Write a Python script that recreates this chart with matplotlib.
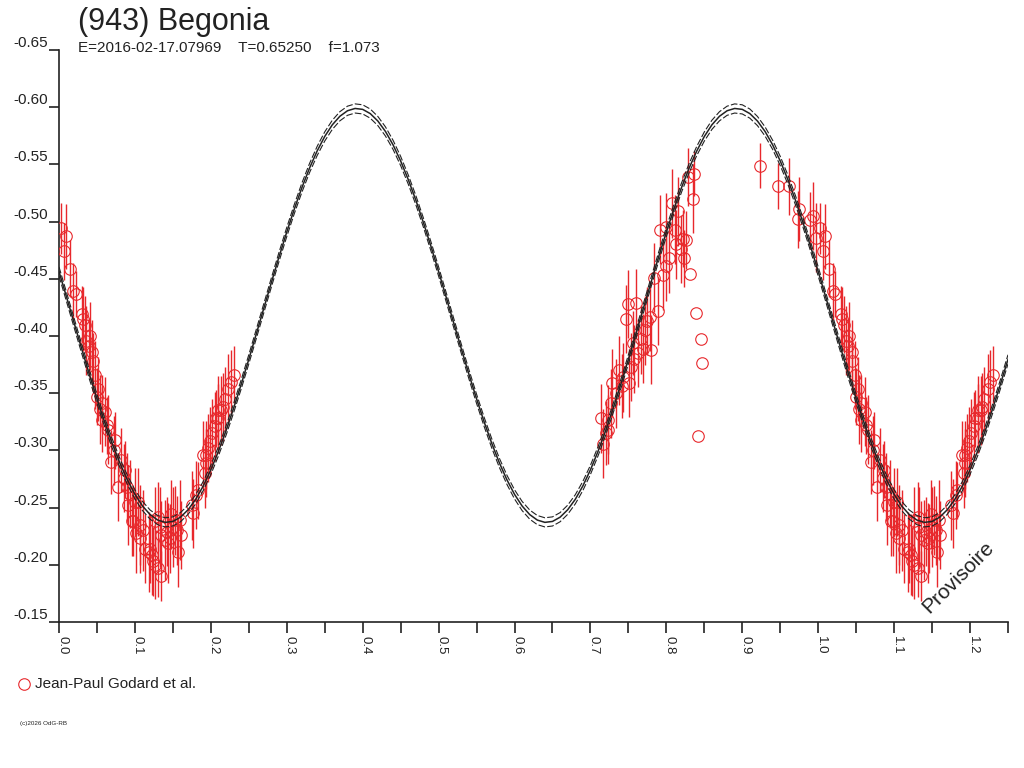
import matplotlib
matplotlib.use('Agg')
import matplotlib.pyplot as plt
from matplotlib.lines import Line2D
from matplotlib.ticker import MultipleLocator

plt.rcParams['font.family'] = ['Liberation Sans', 'DejaVu Sans']

# courbe modele, pas de 0.01 en phase (un cycle = 0.5)
model_cycle = [-0.4564, -0.4339, -0.4112, -0.3886, -0.3664, -0.3451, -0.3249,
               -0.3062, -0.2892, -0.2743, -0.2616, -0.2514, -0.2439, -0.2391,
               -0.2371, -0.2379, -0.2416, -0.2481, -0.2572, -0.2689, -0.2830,
               -0.2992, -0.3172, -0.3369, -0.3578, -0.3796, -0.4021, -0.4248,
               -0.4474, -0.4696, -0.4909, -0.5111, -0.5298, -0.5468, -0.5617,
               -0.5744, -0.5846, -0.5921, -0.5969, -0.5989, -0.5981, -0.5944,
               -0.5879, -0.5788, -0.5671, -0.5530, -0.5368, -0.5188, -0.4991,
               -0.4782]
model_phase = [i * 0.01 for i in range(126)]
model_mag = (model_cycle * 3)[:126]
model_band = 0.004

# mesures : phase, magnitude, erreur
obs_phase = [
    0.003, 0.006, 0.009, 0.014, 0.019, 0.022, 0.030, 0.032, 0.034, 0.036,
    0.039, 0.041, 0.044, 0.045, 0.048, 0.050, 0.052, 0.054, 0.056, 0.056,
    0.061, 0.063, 0.065, 0.069, 0.072, 0.074, 0.078, 0.082, 0.085, 0.087,
    0.089, 0.091, 0.094, 0.096, 0.098, 0.100, 0.102, 0.104, 0.107, 0.107,
    0.111, 0.113, 0.118, 0.120, 0.122, 0.124, 0.126, 0.126, 0.131, 0.131,
    0.133, 0.135, 0.135, 0.139, 0.142, 0.144, 0.146, 0.148, 0.150, 0.153,
    0.155, 0.157, 0.159, 0.161, 0.175, 0.177, 0.181, 0.183, 0.190, 0.192,
    0.194, 0.194, 0.196, 0.199, 0.201, 0.205, 0.207, 0.210, 0.210, 0.214,
    0.216, 0.219, 0.223, 0.226, 0.230,
    0.714, 0.717, 0.720, 0.723, 0.723, 0.727, 0.729, 0.734, 0.738, 0.741,
    0.743, 0.747, 0.749, 0.751, 0.753, 0.756, 0.758, 0.760, 0.762, 0.766,
    0.769, 0.772, 0.775, 0.778, 0.780, 0.784, 0.789, 0.792, 0.796, 0.799,
    0.800, 0.804, 0.807, 0.811, 0.813, 0.815, 0.819, 0.822, 0.823, 0.826,
    0.829, 0.835, 0.837,
    0.831, 0.839, 0.842, 0.845, 0.847,
    0.923, 0.947, 0.961, 0.973, 0.975, 0.989, 0.993, 0.997,
]
obs_mag = [
    -0.494, -0.474, -0.487, -0.459, -0.439, -0.437, -0.419, -0.415, -0.410, -0.396,
    -0.391, -0.400, -0.386, -0.378, -0.366, -0.347, -0.354, -0.336, -0.341, -0.327,
    -0.334, -0.322, -0.318, -0.290, -0.300, -0.309, -0.268, -0.292, -0.276, -0.283,
    -0.268, -0.252, -0.262, -0.238, -0.238, -0.255, -0.228, -0.255, -0.235, -0.223,
    -0.230, -0.214, -0.211, -0.214, -0.209, -0.203, -0.200, -0.238, -0.197, -0.242,
    -0.233, -0.190, -0.226, -0.222, -0.229, -0.219, -0.223, -0.244, -0.233, -0.239,
    -0.230, -0.211, -0.239, -0.226, -0.252, -0.245, -0.261, -0.265, -0.296, -0.280,
    -0.296, -0.289, -0.302, -0.308, -0.315, -0.321, -0.328, -0.328, -0.335, -0.335,
    -0.338, -0.345, -0.354, -0.360, -0.366,
    -0.328, -0.306, -0.315, -0.327, -0.318, -0.341, -0.359, -0.350, -0.370, -0.356,
    -0.364, -0.415, -0.428, -0.359, -0.373, -0.394, -0.380, -0.429, -0.385, -0.397,
    -0.389, -0.405, -0.413, -0.417, -0.388, -0.451, -0.422, -0.493, -0.453, -0.461,
    -0.495, -0.468, -0.516, -0.493, -0.480, -0.509, -0.476, -0.485, -0.468, -0.484,
    -0.539, -0.520, -0.542,
    -0.454, -0.420, -0.313, -0.397, -0.376,
    -0.549, -0.531, -0.531, -0.502, -0.511, -0.501, -0.505, -0.486,
]
obs_err = [
    0.022, 0.025, 0.028, 0.025, 0.025, 0.020, 0.025, 0.028, 0.025, 0.030,
    0.025, 0.030, 0.028, 0.025, 0.030, 0.025, 0.028, 0.030, 0.025, 0.028,
    0.030, 0.025, 0.030, 0.028, 0.030, 0.025, 0.030, 0.028, 0.030, 0.025,
    0.030, 0.035, 0.030, 0.030, 0.030, 0.030, 0.035, 0.030, 0.035, 0.030,
    0.035, 0.030, 0.035, 0.030, 0.035, 0.030, 0.030, 0.030, 0.025, 0.030,
    0.035, 0.022, 0.030, 0.035, 0.030, 0.035, 0.030, 0.030, 0.035, 0.030,
    0.030, 0.030, 0.035, 0.030, 0.030, 0.030, 0.030, 0.025, 0.030, 0.030,
    0.030, 0.030, 0.030, 0.030, 0.030, 0.030, 0.025, 0.030, 0.030, 0.030,
    0.030, 0.028, 0.030, 0.028, 0.025,
    0.030, 0.030, 0.028, 0.030, 0.030, 0.030, 0.030, 0.030, 0.030, 0.028,
    0.030, 0.030, 0.030, 0.030, 0.030, 0.028, 0.030, 0.030, 0.030, 0.030,
    0.030, 0.030, 0.030, 0.030, 0.030, 0.030, 0.030, 0.030, 0.030, 0.030,
    0.030, 0.030, 0.030, 0.030, 0.030, 0.030, 0.030, 0.025, 0.025, 0.025,
    0.025, 0.030, 0.020,
    0.0, 0.0, 0.0, 0.0, 0.0,
    0.020, 0.020, 0.025, 0.025, 0.028, 0.025, 0.030, 0.030,
]

red = '#e8282c'
ink = '#222222'

fig = plt.figure(figsize=(10.24, 7.68), dpi=100)
ax = fig.add_axes([59 / 1024, 146 / 768, 949 / 1024, 572 / 768])

# les points sont repetes a phase+1
xs, ys, es = [], [], []
for p, m, e in zip(obs_phase, obs_mag, obs_err):
    for shift in (0.0, 1.0):
        if p + shift <= 1.25:
            xs.append(p + shift)
            ys.append(m)
            es.append(e)

ax.errorbar(xs, ys, yerr=es, fmt='none', ecolor=red, elinewidth=1.0, capsize=0, zorder=2)
ax.plot(xs, ys, 'o', ms=8.3, mfc='none', mec=red, mew=0.8, zorder=3)

ax.plot(model_phase, model_mag, color=ink, lw=1.1, zorder=4)
ax.plot(model_phase, [m - model_band for m in model_mag], color=ink, lw=0.8, ls=(0, (6, 2)), zorder=4)
ax.plot(model_phase, [m + model_band for m in model_mag], color=ink, lw=0.8, ls=(0, (6, 2)), zorder=4)

ax.set_xlim(0, 1.25)
ax.set_ylim(-0.15, -0.65)
ax.xaxis.set_major_locator(MultipleLocator(0.1))
ax.xaxis.set_minor_locator(MultipleLocator(0.05))
ax.set_yticks([-0.65, -0.60, -0.55, -0.50, -0.45, -0.40, -0.35, -0.30, -0.25, -0.20, -0.15])
ax.set_yticklabels(['%.2f' % v for v in ax.get_yticks()])

for s in ('top', 'right'):
    ax.spines[s].set_visible(False)
for s in ('left', 'bottom'):
    ax.spines[s].set_color(ink)
    ax.spines[s].set_linewidth(1.2)

ax.tick_params(axis='x', which='both', direction='out', length=8, width=1.2, color=ink,
               labelsize=9.5, labelcolor=ink, pad=2)
ax.tick_params(axis='y', direction='out', length=7, width=1.2, color=ink,
               labelsize=11, labelcolor=ink, pad=1)
for lab in ax.get_xticklabels():
    lab.set_rotation(270)
    lab.set_rotation_mode('anchor')
    lab.set_horizontalalignment('left')
    lab.set_verticalalignment('baseline')
for lab in ax.get_yticklabels():
    lab.set_verticalalignment('bottom')

fig.text(78 / 1024, 1 - 30 / 768, '(943) Begonia', fontsize=22, color=ink, va='baseline')
fig.text(78 / 1024, 1 - 52 / 768, 'E=2016-02-17.07969    T=0.65250    f=1.073',
         fontsize=11, color=ink, va='baseline')
fig.text(958 / 1024, 1 - 577 / 768, 'Provisoire', fontsize=15, color=ink,
         rotation=45, ha='center', va='center')

fig.add_artist(Line2D([24 / 1024], [1 - 684 / 768], marker='o', ms=8.3, mfc='none',
                      mec=red, mew=0.8, transform=fig.transFigure))
fig.text(35 / 1024, 1 - 684 / 768, 'Jean-Paul Godard et al.', fontsize=11,
         color=ink, va='center')
fig.text(20 / 1024, 1 - 724 / 768, '(c)2026 OdG-RB', fontsize=4.5, color=ink, va='center')

fig.savefig('out.png', dpi=100)
